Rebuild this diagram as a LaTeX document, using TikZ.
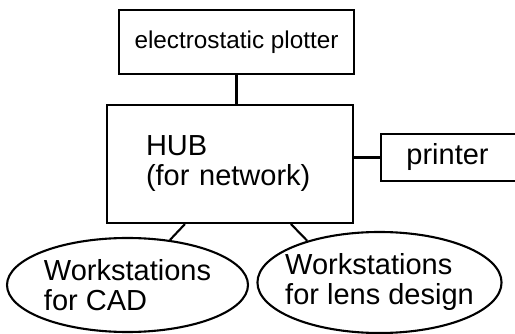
\documentclass[tikz,border=0pt]{standalone}
\usepackage{fontspec}
\setmainfont{Liberation Sans}
\usetikzlibrary{shapes.geometric,calc}
\begin{document}
\begin{tikzpicture}[x=1pt,y=-1pt,
  every node/.style={font=\fontsize{29}{30}\selectfont, inner sep=0pt},
  box/.style={draw, line width=2.1pt, rectangle},
  oval/.style={draw, line width=2.1pt, ellipse, align=left},
  link/.style={line width=2.1pt}]
\useasboundingbox (0,0) rectangle (515,334);
\node[box, minimum width=235pt, minimum height=64pt, font=\fontsize{24.3}{26}\selectfont] (plotter) at (236.5,42) {electrostatic plotter};
\node[box, minimum width=246pt, minimum height=118pt, align=left, text width=168pt] (hub) at (230,164) {HUB\\(for network)};
\node[box, minimum width=137pt, minimum height=47pt, anchor=west] (printer) at (380,157.5) {\hspace*{-4pt}printer};
\node[oval, minimum width=241pt, minimum height=94pt, inner xsep=-0.5pt] (cad) at (127.5,285) {Workstations\\for CAD};
\node[oval, minimum width=241pt, minimum height=101pt, inner xsep=-8pt] (lens) at (379.5,282.5) {Workstations\\for lens design};
\draw[link] (plotter.south) -- (plotter.south |- hub.north);
\draw[link] (printer.west) -- (printer.west -| hub.east);
\draw[link] ([xshift=79pt]hub.south west) -- (cad);
\draw[link] ([xshift=185pt]hub.south west) -- (lens.150);
\end{tikzpicture}
\end{document}
